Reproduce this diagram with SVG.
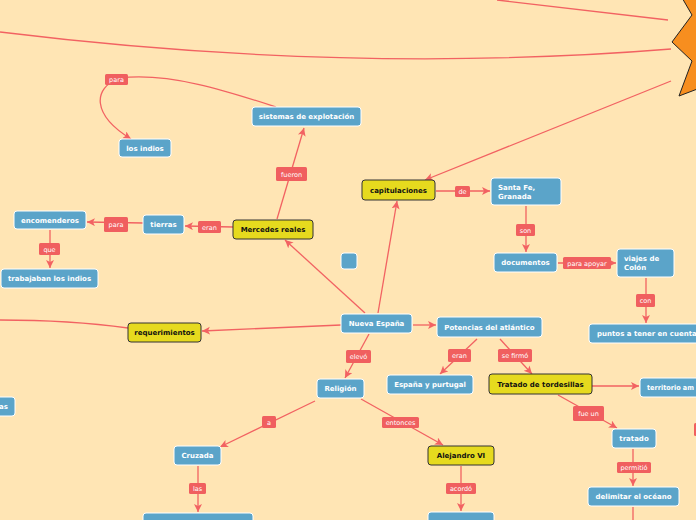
<svg xmlns="http://www.w3.org/2000/svg" width="696" height="520" viewBox="0 0 696 520">
<style>
.n rect{fill:#5BA4C9;stroke:#fff;stroke-width:1}
.n text{fill:#fff;font-family:"DejaVu Sans",Verdana,sans-serif;font-weight:bold;font-size:7px;text-anchor:middle}
.y rect{fill:#E6DA1E;stroke:#333;stroke-width:1}
.y text{fill:#111;font-family:"DejaVu Sans",Verdana,sans-serif;font-weight:bold;font-size:7px;text-anchor:middle}
.l rect{fill:#F05F5F}
.l text{fill:#fff;font-family:"DejaVu Sans",Verdana,sans-serif;font-size:6.5px;text-anchor:middle}
.c path{fill:none;stroke:#F26262;stroke-width:1.3}
.c .a{marker-end:url(#arr)}
</style>
<defs>
<marker id="arr" markerUnits="userSpaceOnUse" markerWidth="10" markerHeight="10" refX="8" refY="4" orient="auto">
<path d="M0,0 L8,4 L0,8 L2,4 z" fill="#F26262"/>
</marker>
</defs>
<rect x="0" y="0" width="696" height="520" fill="#FFE5B4"/>
<polygon points="681,-4 692,15 672,42 692,61 679,96 700,88 700,-4" fill="#F78E1F" stroke="#222" stroke-width="1"/>
<g id="connectors" class="c">
<path d="M497,0 L668,20"/>
<path d="M0,32 Q350,75 671,49"/>
<path class="a" d="M671,81 L425,180"/>
<path class="a" d="M276,107 C230,92 170,72 120,78 C92,88 92,115 131,139"/>
<path class="a" d="M277,219 L304,128"/>
<path class="a" d="M233,227 L185,226"/>
<path class="a" d="M143,223 L87,222"/>
<path class="a" d="M50,230 L50,268"/>
<path class="a" d="M365,313 L285,240"/>
<path class="a" d="M341,325 L202,331"/>
<path d="M128,328 Q70,320 0,320"/>
<path class="a" d="M378,313 L397,201"/>
<path class="a" d="M436,191 L490,191"/>
<path class="a" d="M526,206 L526,252"/>
<path class="a" d="M558,263 L616,263"/>
<path class="a" d="M646,278 L646,323"/>
<path class="a" d="M413,325 L436,325"/>
<path class="a" d="M477,339 L440,374"/>
<path class="a" d="M500,339 L532,374"/>
<path class="a" d="M592,386 L639,386"/>
<path class="a" d="M558,395 L617,428"/>
<path class="a" d="M633,449 L633,486"/>
<path d="M633,507 L633,520"/>
<path class="a" d="M369,334 L345,378"/>
<path class="a" d="M361,399 L443,445"/>
<path class="a" d="M315,401 L220,447"/>
<path class="a" d="M198,466 L198,512"/>
<path class="a" d="M461,466 L461,511"/>
</g>
<g id="lbl-para1" class="l"><rect x="105" y="74" width="23" height="11" rx="1.5"/><text x="116.5" y="82">para</text></g>
<g id="lbl-fueron" class="l"><rect x="276" y="167" width="31" height="14" rx="1.5"/><text x="291.5" y="176.5">fueron</text></g>
<g id="lbl-eran1" class="l"><rect x="198" y="221" width="23" height="12" rx="1.5"/><text x="209.5" y="229.5">eran</text></g>
<g id="lbl-para2" class="l"><rect x="104" y="217" width="24" height="15" rx="1.5"/><text x="116" y="227">para</text></g>
<g id="lbl-que" class="l"><rect x="39" y="243" width="21" height="12" rx="1.5"/><text x="49.5" y="251.5">que</text></g>
<g id="lbl-de" class="l"><rect x="455" y="186" width="15" height="11" rx="1.5"/><text x="462.5" y="194">de</text></g>
<g id="lbl-son" class="l"><rect x="516" y="224" width="19" height="12" rx="1.5"/><text x="525.5" y="232.5">son</text></g>
<g id="lbl-apoyar" class="l"><rect x="563" y="257" width="48" height="12" rx="1.5"/><text x="587" y="265.5">para apoyar</text></g>
<g id="lbl-con" class="l"><rect x="636" y="294" width="19" height="13" rx="1.5"/><text x="645.5" y="303">con</text></g>
<g id="lbl-elevo" class="l"><rect x="346" y="350" width="25" height="13" rx="1.5"/><text x="358.5" y="359">elevó</text></g>
<g id="lbl-eran2" class="l"><rect x="448" y="349" width="23" height="13" rx="1.5"/><text x="459.5" y="358">eran</text></g>
<g id="lbl-sefirmo" class="l"><rect x="498" y="349" width="34" height="13" rx="1.5"/><text x="515" y="358">se firmó</text></g>
<g id="lbl-fueun" class="l"><rect x="573" y="406" width="31" height="15" rx="1.5"/><text x="588.5" y="416">fue un</text></g>
<g id="lbl-permitio" class="l"><rect x="617" y="462" width="34" height="11" rx="1.5"/><text x="634" y="470">permitió</text></g>
<g id="lbl-entonces" class="l"><rect x="382" y="417" width="37" height="11" rx="1.5"/><text x="400.5" y="425">entonces</text></g>
<g id="lbl-a" class="l"><rect x="262" y="416" width="14" height="12" rx="1.5"/><text x="269" y="424.5">a</text></g>
<g id="lbl-acordo" class="l"><rect x="446" y="483" width="30" height="11" rx="1.5"/><text x="461" y="491">acordó</text></g>
<g id="lbl-las" class="l"><rect x="189" y="483" width="17" height="11" rx="1.5"/><text x="197.5" y="491">las</text></g>
<g id="lbl-edge" class="l"><rect x="694" y="423" width="10" height="13" rx="1.5"/></g>
<g id="sistemas" class="n"><rect x="252" y="107" width="109" height="19" rx="3"/><text x="306.5" y="119">sistemas de explotación</text></g>
<g id="losindios" class="n"><rect x="119" y="139" width="52" height="18" rx="3"/><text x="145" y="150.5">los indios</text></g>
<g id="tierras" class="n"><rect x="143" y="215" width="41" height="19" rx="3"/><text x="163.5" y="227">tierras</text></g>
<g id="encomenderos" class="n"><rect x="14" y="211" width="72" height="18" rx="3"/><text x="50" y="222.5">encomenderos</text></g>
<g id="trabajaban" class="n"><rect x="1" y="269" width="97" height="19" rx="3"/><text x="49.5" y="281">trabajaban los indios</text></g>
<g id="mercedes" class="y"><rect x="233" y="220" width="80" height="19" rx="3"/><text x="273" y="232">Mercedes reales</text></g>
<g id="requerimientos" class="y"><rect x="128" y="323" width="73" height="19" rx="3"/><text x="164.5" y="335">requerimientos</text></g>
<g id="empty" class="n"><rect x="341" y="253" width="16" height="16" rx="3"/></g>
<g id="nuevaespana" class="n"><rect x="341" y="314" width="71" height="19" rx="3"/><text x="376.5" y="326">Nueva España</text></g>
<g id="capitulaciones" class="y"><rect x="362" y="180" width="73" height="20" rx="3"/><text x="398.5" y="192.5">capitulaciones</text></g>
<g id="santafe" class="n"><rect x="491" y="178" width="70" height="27" rx="3"/><text x="498" y="190" style="text-anchor:start">Santa Fe,</text><text x="498" y="199" style="text-anchor:start">Granada</text></g>
<g id="documentos" class="n"><rect x="494" y="253" width="63" height="19" rx="3"/><text x="525.5" y="265">documentos</text></g>
<g id="viajes" class="n"><rect x="617" y="249" width="57" height="28" rx="3"/><text x="624" y="261" style="text-anchor:start">viajes de</text><text x="624" y="270" style="text-anchor:start">Colón</text></g>
<g id="puntos" class="n"><rect x="589" y="324" width="115" height="19" rx="3"/><text x="597" y="336" style="text-anchor:start">puntos a tener en cuenta</text></g>
<g id="potencias" class="n"><rect x="437" y="317" width="105" height="20" rx="3"/><text x="489.5" y="329.5">Potencias del atlántico</text></g>
<g id="espana" class="n"><rect x="387" y="375" width="86" height="19" rx="3"/><text x="430" y="387">España y purtugal</text></g>
<g id="tordesillas" class="y"><rect x="489" y="374" width="103" height="20" rx="3"/><text x="540.5" y="386.5">Tratado de tordesillas</text></g>
<g id="territorio" class="n"><rect x="640" y="378" width="70" height="19" rx="3"/><text x="647" y="390" style="text-anchor:start" textLength="47" lengthAdjust="spacingAndGlyphs">territorio am</text></g>
<g id="tratado" class="n"><rect x="612" y="429" width="44" height="19" rx="3"/><text x="634" y="441">tratado</text></g>
<g id="delimitar" class="n"><rect x="588" y="487" width="91" height="19" rx="3"/><text x="633.5" y="499">delimitar el océano</text></g>
<g id="religion" class="n"><rect x="317" y="379" width="47" height="19" rx="3"/><text x="340.5" y="391">Religión</text></g>
<g id="cruzada" class="n"><rect x="174" y="446" width="47" height="19" rx="3"/><text x="197.5" y="458">Cruzada</text></g>
<g id="alejandro" class="y"><rect x="428" y="446" width="66" height="19" rx="3"/><text x="461" y="458">Alejandro VI</text></g>
<g id="below-alejandro" class="n"><rect x="428" y="512" width="66" height="20" rx="3"/></g>
<g id="below-cruzada" class="n"><rect x="143" y="513" width="110" height="20" rx="3"/></g>
<g id="left-as" class="n"><rect x="-20" y="397" width="35" height="19" rx="3"/><text x="8" y="409" style="text-anchor:end">as</text></g>
</svg>
